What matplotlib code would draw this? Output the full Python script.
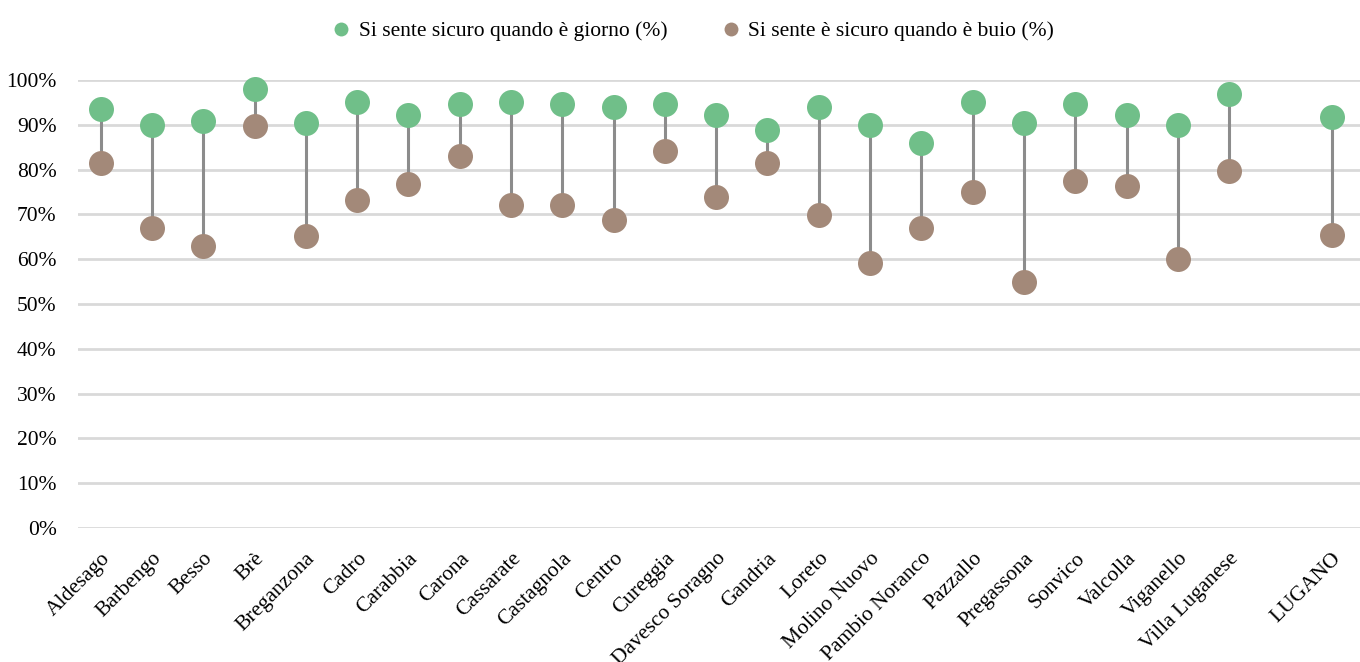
import matplotlib
matplotlib.use("Agg")
import matplotlib.pyplot as plt
from matplotlib.lines import Line2D
import numpy as np

plt.rcParams["font.family"] = ["Liberation Serif", "DejaVu Serif"]

# quartieri + totale citta
quartieri = ["Aldesago", "Barbengo", "Besso", "Brè", "Breganzona", "Cadro", "Carabbia",
             "Carona", "Cassarate", "Castagnola", "Centro", "Cureggia", "Davesco Soragno",
             "Gandria", "Loreto", "Molino Nuovo", "Pambio Noranco", "Pazzallo", "Pregassona",
             "Sonvico", "Valcolla", "Viganello", "Villa Luganese", "LUGANO"]

giorno = [93.5, 90.0, 90.8, 98.0, 90.4, 95.1, 92.2, 94.6, 95.1, 94.6, 94.0, 94.6, 92.2,
          88.8, 94.0, 90.0, 85.9, 95.1, 90.4, 94.6, 92.2, 90.0, 96.9, 91.7]
buio = [81.5, 67.0, 62.9, 89.7, 65.2, 73.2, 76.8, 83.0, 72.1, 72.1, 68.8, 84.2, 73.9,
        81.5, 69.9, 59.2, 67.0, 75.0, 54.9, 77.5, 76.3, 60.0, 79.7, 65.4]

label_giorno = "Si sente sicuro quando è giorno (%)"
label_buio = "Si sente è sicuro quando è buio (%)"

col_giorno = "#70bf89"
col_buio = "#a38979"
col_line = "#8c8c8c"

# LUGANO sta un posto piu in la
x = np.arange(len(quartieri), dtype=float)
x[-1] += 1

fig = plt.figure(figsize=(13.6, 6.62), dpi=100)
ax = fig.add_axes([0.057, 0.2024, 0.943, 0.6767])

ax.vlines(x, buio, giorno, color=col_line, lw=2.2, zorder=2)
ax.plot(x, giorno, "o", color=col_giorno, ms=18, mec="none", zorder=3, clip_on=False)
ax.plot(x, buio, "o", color=col_buio, ms=18, mec="none", zorder=3, clip_on=False)

ax.set_ylim(0, 100)
ax.set_xlim(-0.45, x[-1] + 0.55)
yt = np.arange(0, 101, 10)
ax.set_yticks(yt)
ax.set_yticklabels([f"{v}%" for v in yt], fontsize=15.5)
ax.yaxis.grid(True, color="#d9d9d9", lw=2)
ax.set_axisbelow(True)
ax.tick_params(axis="both", length=0)
ax.tick_params(axis="y", pad=15)

ax.set_xticks(x)
ax.set_xticklabels(quartieri, rotation=45, ha="right", va="top",
                   rotation_mode="anchor", fontsize=15.5)
ax.tick_params(axis="x", pad=15)

for s in ax.spines.values():
    s.set_visible(False)

handles = [Line2D([], [], marker="o", ls="none", color=col_giorno, ms=10, mec="none"),
           Line2D([], [], marker="o", ls="none", color=col_buio, ms=10, mec="none")]
fig.legend(handles, [label_giorno, label_buio], loc="upper center",
           bbox_to_anchor=(0.509, 0.997), ncol=2, frameon=False, fontsize=15.5,
           handletextpad=0.3, columnspacing=2.45, handlelength=1.0)

fig.savefig("out.png", dpi=100)
